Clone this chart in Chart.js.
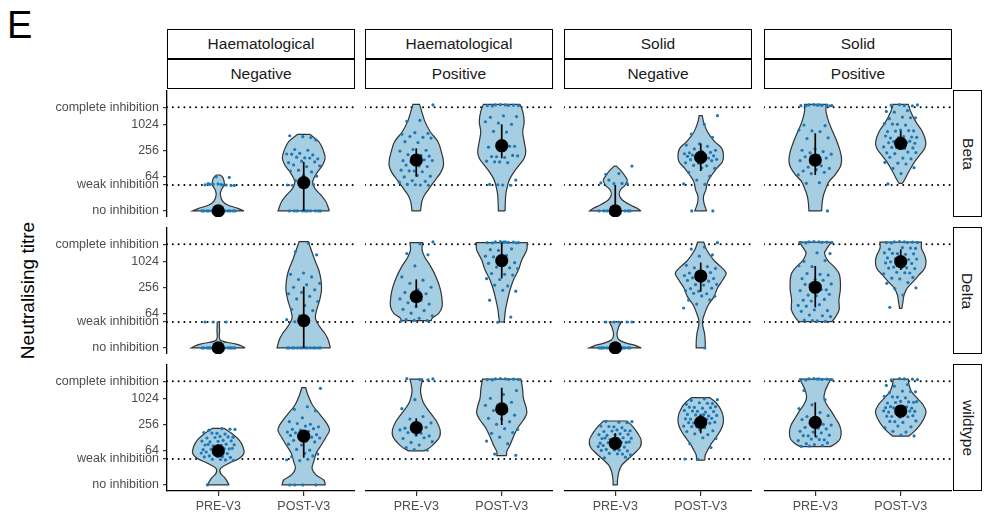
<!DOCTYPE html>
<html>
<head>
<meta charset="utf-8">
<script src="https://cdn.jsdelivr.net/npm/chart.js@4.4.1/dist/chart.umd.min.js"></script>
<style>
  html, body { margin: 0; padding: 0; background: #fff; }
  body { position: relative; width: 986px; height: 529px; overflow: hidden; font-family: "Liberation Sans", Arial, sans-serif; }
  canvas { position: absolute; }
  .strip { position: absolute; box-sizing: border-box; border: 1.3px solid #000; background: #fff;
           display: flex; align-items: center; justify-content: center; font-size: 15.5px; color: #1a1a1a; }
  .strip span { white-space: nowrap; }
  .strip .vertical { transform: rotate(90deg); }
  #panel-tag { position: absolute; left: 7px; top: 6px; font-size: 38px; line-height: 38px; color: #000; }
  #y-title { position: absolute; left: -123px; top: 281px; width: 300px; height: 19px; line-height: 19px;
             text-align: center; font-size: 19px; color: #000; transform: rotate(-90deg); white-space: nowrap; }
</style>
</head>
<body>
<div id="panel-tag">E</div>
<div id="y-title">Neutralising titre</div>
<script>
// Facets
const timepoints = ['PRE-V3', 'POST-V3'];
const cancerTypes = ['Haematological', 'Haematological', 'Solid', 'Solid'];
const antibodyStatus = ['Negative', 'Positive', 'Negative', 'Positive'];
const variants = ['Beta', 'Delta', 'wildtype'];

// y axis is log2(titre); no inhibition / weak / complete are plotted at 10, 40, 2560
const tickValues = [3.32, 5.32, 6, 8, 10, 11.32];
const tickLabels = ['no inhibition', 'weak inhibition', '64', '256', '1024', 'complete inhibition'];
const thresholdLines = [5.32, 11.32];

// summary stats, order: HaemNeg PRE, POST, HaemPos PRE, POST, SolidNeg PRE, POST, SolidPos PRE, POST
const betaMedian = [3.32, 5.5, 7.25, 8.35, 3.32, 7.45, 7.25, 8.53];
const betaQ1 = [3.32, 3.32, 5.96, 7.38, 3.32, 6.4, 6.09, 8.02];
const betaQ3 = [3.32, 7.1, 8.15, 10.0, 5.32, 8.53, 9.31, 9.49];
const deltaMedian = [3.32, 5.42, 7.28, 10.05, 3.32, 8.87, 8.0, 9.98];
const deltaQ1 = [3.32, 3.32, 6.45, 8.69, 3.32, 7.66, 6.45, 9.33];
const deltaQ3 = [3.32, 8.05, 8.61, 11.44, 3.32, 9.9, 9.64, 10.93];
const wildtypeMedian = [5.94, 7.09, 7.74, 9.18, 6.53, 8.15, 8.15, 9.02];
const wildtypeQ1 = [5.6, 5.42, 7.12, 7.94, 6.01, 7.3, 7.04, 8.66];
const wildtypeQ3 = [6.45, 7.43, 8.46, 10.82, 7.3, 8.71, 9.69, 9.49];

// violin outlines: [log2 titre, density half-width in category units], bottom to top
const betaViolins = [
  [[3.32,0.30],[3.52,0.23],[3.78,0.11],[4.08,0.05],[4.55,0.025],[4.93,0.035],[5.32,0.07],[5.70,0.065],[5.96,0.045],[6.09,0.02]],
  [[3.32,0.30],[3.52,0.29],[4.03,0.26],[4.55,0.20],[5.06,0.13],[5.52,0.105],[5.83,0.117],[6.35,0.164],[6.86,0.222],[7.38,0.25],[7.89,0.234],[8.66,0.176],[9.23,0.07]],
  [[3.32,0.05],[4.03,0.065],[4.55,0.097],[5.06,0.152],[5.70,0.222],[6.22,0.28],[6.73,0.316],[7.25,0.316],[7.89,0.293],[8.66,0.254],[9.43,0.164],[10.21,0.102],[10.98,0.064],[11.54,0.039]],
  [[3.32,0.039],[4.55,0.047],[5.32,0.07],[5.83,0.097],[6.35,0.146],[6.86,0.205],[7.38,0.263],[7.89,0.281],[8.66,0.263],[9.43,0.246],[10.21,0.263],[10.98,0.246],[11.54,0.214]],
  [[3.32,0.30],[3.52,0.257],[3.78,0.176],[4.16,0.082],[4.55,0.047],[4.93,0.059],[5.32,0.117],[5.70,0.14],[6.09,0.105],[6.48,0.059],[6.78,0.012]],
  [[3.32,0.07],[3.90,0.039],[4.42,0.032],[4.93,0.059],[5.58,0.082],[6.09,0.129],[6.61,0.187],[7.12,0.254],[7.63,0.266],[8.15,0.246],[8.66,0.164],[9.43,0.078],[10.21,0.032],[10.67,0.018]],
  [[3.32,0.074],[4.03,0.082],[4.55,0.097],[5.06,0.125],[5.58,0.16],[6.09,0.23],[6.73,0.293],[7.25,0.308],[7.89,0.293],[8.66,0.254],[9.43,0.205],[10.21,0.156],[10.98,0.126],[11.54,0.126]],
  [[5.45,0.02],[5.70,0.043],[6.09,0.074],[6.61,0.117],[7.12,0.164],[7.63,0.222],[8.15,0.281],[8.66,0.293],[9.43,0.254],[10.21,0.176],[10.98,0.117],[11.54,0.088]]
];
const deltaViolins = [
  [[3.32,0.316],[3.52,0.257],[3.68,0.164],[3.93,0.023],[4.7,0.015],[5.32,0.012]],
  [[3.32,0.312],[3.93,0.287],[4.45,0.246],[4.96,0.187],[5.60,0.137],[6.25,0.152],[7.02,0.187],[7.79,0.208],[8.56,0.202],[9.33,0.176],[10.10,0.129],[10.88,0.088],[11.52,0.053]],
  [[5.42,0.175],[5.60,0.185],[5.99,0.263],[6.50,0.302],[7.28,0.298],[8.05,0.273],[8.82,0.23],[9.59,0.17],[10.36,0.097],[10.88,0.068],[11.44,0.074]],
  [[5.32,0.027],[5.73,0.035],[6.25,0.044],[7.02,0.068],[7.79,0.097],[8.56,0.137],[9.33,0.195],[10.10,0.234],[10.88,0.293],[11.44,0.298]],
  [[3.32,0.304],[3.52,0.234],[3.67,0.14],[3.93,0.047],[4.32,0.02],[4.96,0.041],[5.32,0.07]],
  [[3.32,0.053],[3.80,0.053],[4.45,0.044],[5.09,0.023],[5.48,0.023],[5.99,0.047],[6.63,0.088],[7.28,0.156],[7.92,0.195],[8.56,0.257],[9.08,0.298],[9.59,0.234],[10.10,0.152],[10.88,0.07],[11.49,0.035]],
  [[5.35,0.195],[5.68,0.234],[6.25,0.279],[7.02,0.277],[7.79,0.293],[8.56,0.293],[9.08,0.277],[9.59,0.219],[10.10,0.143],[10.62,0.108],[11.0,0.137],[11.49,0.19]],
  [[6.37,0.014],[6.89,0.026],[7.40,0.039],[7.92,0.074],[8.43,0.146],[8.95,0.214],[9.46,0.281],[9.98,0.296],[10.49,0.279],[11.0,0.243],[11.49,0.243]]
];
const wildtypeViolins = [
  [[3.32,0.126],[3.83,0.082],[4.21,0.027],[4.60,0.027],[4.99,0.126],[5.37,0.249],[5.76,0.30],[6.27,0.289],[6.79,0.243],[7.30,0.156],[7.69,0.068]],
  [[3.32,0.254],[3.70,0.234],[4.09,0.143],[4.60,0.097],[5.11,0.117],[5.76,0.146],[6.40,0.205],[7.04,0.263],[7.56,0.302],[8.07,0.269],[8.71,0.195],[9.49,0.102],[10.26,0.049],[10.82,0.023]],
  [[5.94,0.088],[6.14,0.146],[6.53,0.214],[7.04,0.273],[7.56,0.279],[8.2,0.24],[8.71,0.185],[9.23,0.126],[9.74,0.078],[10.52,0.05],[11.03,0.058],[11.49,0.074]],
  [[5.58,0.058],[5.89,0.058],[6.40,0.097],[7.04,0.137],[7.69,0.185],[8.33,0.254],[8.84,0.293],[9.36,0.283],[10.0,0.254],[10.77,0.243],[11.49,0.224]],
  [[3.32,0.026],[3.70,0.026],[4.34,0.043],[4.86,0.078],[5.24,0.137],[5.76,0.224],[6.27,0.293],[6.79,0.302],[7.30,0.263],[7.82,0.205],[8.25,0.137]],
  [[5.24,0.049],[5.63,0.053],[6.01,0.082],[6.53,0.126],[7.04,0.185],[7.56,0.234],[8.07,0.263],[8.59,0.263],[9.1,0.237],[9.62,0.185],[10.05,0.108]],
  [[6.27,0.175],[6.53,0.243],[6.91,0.293],[7.43,0.302],[7.94,0.283],[8.46,0.237],[8.97,0.19],[9.49,0.137],[10.0,0.103],[10.52,0.113],[11.03,0.146],[11.49,0.184]],
  [[7.09,0.097],[7.43,0.156],[7.94,0.224],[8.46,0.273],[8.97,0.296],[9.49,0.263],[10.0,0.195],[10.52,0.126],[11.03,0.097],[11.49,0.088]]
];

// individual samples (log2 titre)
const betaPoints = [
  [3.32,3.32,3.32,3.32,3.32,3.32,3.32,3.32,3.32,3.32,3.32,3.32,3.32,3.32,5.3,5.36,5.28,5.4,5.33,5.31,5.38,5.29,5.35,5.42,5.9,5.95],
  [3.32,3.32,3.32,3.32,3.32,3.32,3.32,3.32,3.32,3.32,5.3,5.35,5.42,5.32,5.6,5.66,6.0,6.07,6.4,6.33,6.46,6.8,6.74,6.87,7.1,7.16,7.04,7.4,7.47,7.34,7.42,7.7,7.64,7.76,7.71,8.0,8.06,8.8,9.05,9.12,8.98],
  [11.5,10.3,10.24,9.3,9.36,9.24,9.0,9.06,8.94,8.6,8.66,8.0,8.06,7.94,7.6,7.66,7.54,7.61,7.2,7.26,7.14,7.21,6.8,6.86,6.74,6.4,6.46,6.34,6.41,6.0,6.06,5.94,5.6,5.66,5.54,5.32,5.36,5.3,5.34],
  [11.45,11.5,11.42,11.48,11.52,11.44,11.46,11.5,10.6,10.66,10.54,10.0,10.1,10.2,9.4,9.46,8.3,8.36,8.24,8.31,7.5,7.56,7.44,7.51,7.6,7.1,7.16,7.04,7.11,5.7,5.32,5.36,5.3,5.34],
  [6.78,6.2,6.14,5.45,5.42,5.48,5.44,5.7,3.32,3.32,3.32,3.32,3.32,3.32,3.32,3.32,3.32,3.32],
  [10.67,10.0,9.25,9.0,8.5,8.4,8.3,8.1,8.0,7.9,7.8,7.83,7.7,7.73,7.6,7.63,7.57,7.5,7.53,7.4,7.43,7.3,7.33,7.27,7.2,7.0,7.03,6.8,6.83,6.6,6.63,6.3,6.0,5.7,5.4,5.37,3.32,3.32],
  [11.45,11.5,11.42,11.48,11.52,11.44,11.46,11.5,11.43,11.49,9.95,9.9,9.5,9.56,9.44,8.9,8.96,8.1,8.0,7.9,7.8,7.7,7.6,7.5,7.4,7.3,7.2,6.8,6.7,6.6,6.5,6.4,6.3,6.2,6.1,5.5,5.45,3.32],
  [11.5,11.45,11.48,11.42,11.52,11.0,11.06,10.94,10.5,10.56,10.44,10.51,10.0,10.06,9.94,10.02,9.5,9.56,9.44,9.52,9.48,9.0,9.06,8.94,9.02,8.98,9.1,8.6,8.66,8.54,8.62,8.58,8.7,8.2,8.26,8.14,8.22,8.18,8.3,7.8,7.86,7.74,7.82,7.4,7.46,7.34,7.0,7.06,6.94,6.6,6.66,6.2,5.4]
];
const deltaPoints = [
  [3.32,3.32,3.32,3.32,3.32,3.32,3.32,3.32,3.32,3.32,3.32,3.32,3.32,3.32,3.32,3.32,3.32,3.32,5.32,5.32,5.32],
  [3.32,3.32,3.32,3.32,3.32,3.32,3.32,3.32,3.32,3.32,3.32,3.32,3.32,3.32,11.4,10.75,10.5,9.1,9.0,8.8,8.6,8.3,8.2,8.0,7.8,7.6,7.5,7.3,7.1,6.9,6.6,6.3,6.2,5.8,5.5,5.3,5.34],
  [11.5,11.35,10.6,10.5,9.65,8.8,8.55,8.3,8.0,7.8,7.6,7.5,7.3,7.1,7.0,6.8,6.7,6.5,6.3,6.2,6.0,5.8,5.6,5.5,5.42,5.44,5.4],
  [11.45,11.5,11.42,11.48,11.52,11.44,11.46,11.5,11.43,11.49,10.9,10.96,10.84,10.4,10.46,10.34,9.9,9.96,9.84,9.5,9.56,9.44,9.0,9.06,8.94,8.6,8.66,8.1,8.16,7.7,7.76,7.0,5.7,5.3],
  [5.32,5.32,5.32,5.32,5.32,3.32,3.32,3.32,3.32,3.32,3.32,3.32,3.32,3.32,3.32,3.32,3.32,3.32,3.32,3.32,3.32],
  [11.44,11.1,10.95,10.5,10.4,9.7,9.6,9.5,9.45,9.2,9.1,9.13,9.07,8.9,8.7,8.73,8.67,8.5,8.53,8.47,8.2,8.23,8.17,7.9,7.93,7.7,7.73,7.5,7.53,7.3,7.33,7.0,7.03,6.7,6.4,3.32],
  [11.45,11.5,11.42,11.48,11.52,11.44,11.46,11.5,10.6,10.66,10.0,10.06,9.6,9.66,9.0,9.06,8.94,8.6,8.66,8.54,8.2,8.26,8.14,8.22,7.8,7.86,7.74,7.82,7.4,7.46,7.34,7.0,7.06,6.94,6.6,6.66,6.54,6.2,6.26,6.14,5.8,5.86,5.74,5.4,5.46,5.36,5.42],
  [11.45,11.5,11.42,11.48,11.52,11.44,11.46,11.5,11.0,11.06,10.94,11.02,10.6,10.66,10.54,10.62,10.58,10.2,10.26,10.14,10.22,10.18,9.9,9.96,9.84,9.92,9.88,9.5,9.56,9.44,9.52,9.48,9.1,9.16,9.04,9.12,8.7,8.76,8.64,8.3,8.36,7.9,7.96,7.4,6.45]
];
const wildtypePoints = [
  [7.6,7.66,7.54,7.62,7.3,7.36,7.24,7.32,7.0,7.06,6.94,7.02,6.98,6.7,6.76,6.64,6.72,6.68,6.4,6.46,6.34,6.42,6.38,6.44,6.1,6.16,6.04,6.12,6.08,6.14,5.8,5.86,5.74,5.82,5.78,5.5,5.56,5.44,5.52,5.48,5.25,5.3,5.22,5.28,3.32],
  [10.77,9.35,9.15,9.05,8.5,8.2,8.0,8.06,7.8,7.86,7.6,7.66,7.54,7.4,7.46,7.34,7.2,7.26,7.14,7.0,7.06,6.94,6.7,6.76,6.64,6.4,6.46,6.0,6.06,5.7,5.76,5.5,5.56,5.2,5.26,5.3,3.32,3.32,3.32,3.32],
  [11.5,11.45,11.52,11.42,9.9,9.2,8.6,8.4,8.1,7.9,7.7,7.76,7.5,7.56,7.3,7.36,7.1,7.16,6.9,6.96,6.6,6.66,6.4,6.2,6.0,6.04],
  [11.45,11.5,11.42,11.48,11.52,11.44,11.46,11.5,10.6,10.3,10.0,9.7,9.4,9.46,9.0,9.06,8.7,8.4,8.46,8.2,8.0,7.6,7.66,7.3,7.36,7.0,6.7,6.5,5.7,5.6],
  [8.2,8.16,8.22,8.12,7.8,7.86,7.74,7.82,7.5,7.56,7.44,7.52,7.48,7.2,7.26,7.14,7.22,7.18,6.9,6.96,6.84,6.92,6.88,6.94,6.6,6.66,6.54,6.62,6.58,6.64,6.3,6.36,6.24,6.32,6.28,6.0,6.06,5.94,6.02,5.98,5.7,5.76,5.64,5.72,5.4,5.46],
  [9.9,9.96,9.84,9.6,9.66,9.54,9.62,9.3,9.36,9.24,9.32,9.28,9.0,9.06,8.94,9.02,8.98,8.7,8.76,8.64,8.72,8.68,8.74,8.4,8.46,8.34,8.42,8.38,8.1,8.16,8.04,8.12,8.08,7.8,7.86,7.74,7.82,7.5,7.56,7.44,7.2,7.26,6.9,6.96,6.5,6.2,5.3,5.32],
  [11.45,11.5,11.42,11.48,11.52,11.44,11.46,11.5,11.43,11.49,10.6,9.9,9.5,9.2,8.9,8.6,8.66,8.3,8.36,8.0,8.06,7.94,7.7,7.76,7.64,7.4,7.46,7.34,7.1,7.16,7.04,7.12,6.8,6.86,6.74,6.82,6.5,6.56,6.44,6.3,6.36,6.32],
  [11.45,11.5,11.42,11.48,11.52,11.0,11.06,10.94,10.5,10.56,10.44,10.52,10.1,10.16,10.04,10.12,9.7,9.76,9.64,9.72,9.68,9.74,9.3,9.36,9.24,9.32,9.28,9.34,9.26,9.0,9.06,8.94,9.02,8.98,9.04,8.96,8.6,8.66,8.54,8.62,8.58,8.2,8.26,8.14,8.22,7.8,7.86,7.74,7.4,7.46,7.1,7.16]
];

const rows = [
  { violins: betaViolins, points: betaPoints, median: betaMedian, q1: betaQ1, q3: betaQ3 },
  { violins: deltaViolins, points: deltaPoints, median: deltaMedian, q1: deltaQ1, q3: deltaQ3 },
  { violins: wildtypeViolins, points: wildtypePoints, median: wildtypeMedian, q1: wildtypeQ1, q3: wildtypeQ3 }
];

// layout
const panelLeft = [167, 365, 564, 764];
const panelTop = [90, 227, 364];
const panelW = 188;
const panelH = 127;
const xAxisH = 38;
const xMin = 0.4, xMax = 2.6;
const yMin = 2.85, yMax = 12.65;

const violinFill = 'rgb(166,206,227)';
const violinLine = '#333333';
const pointColor = '#1f78b4';
const tickColor = '#4d4d4d';
const jitterWidth = 0.2;

Chart.defaults.font.family = '"Liberation Sans", Arial, sans-serif';

function addStrip(text, left, top, width, height, vertical) {
  const box = document.createElement('div');
  box.className = 'strip';
  box.style.left = left + 'px';
  box.style.top = top + 'px';
  box.style.width = width + 'px';
  box.style.height = height + 'px';
  const span = document.createElement('span');
  span.textContent = text;
  if (vertical) span.className = 'vertical';
  box.appendChild(span);
  document.body.appendChild(box);
}

// closed outline; corner points doubled so flat ends stay straight
function violinOutline(shape, center) {
  const right = shape.map(([y, w]) => ({ x: center + w, y: y }));
  const left = shape.slice().reverse().map(([y, w]) => ({ x: center - w, y: y }));
  const last = right.length - 1;
  return [right[0]].concat(right, [right[last]], [left[0]], left, [left[last]], [right[0]]);
}

function jitter(values, center) {
  return values.map((y, i) => {
    const u = ((i + 1) * 0.6180339887 + 0.37) % 1;
    return { x: center + jitterWidth * (2 * u - 1), y: y };
  });
}

function buildDatasets(row, col) {
  const sets = [];
  for (let t = 0; t < 2; t++) {
    const k = col * 2 + t;
    const center = t + 1;
    sets.push({
      data: [{ x: center, y: row.median[k] }],
      pointRadius: 6.6, pointBackgroundColor: '#000', pointBorderWidth: 0, order: 0
    });
    sets.push({
      data: [{ x: center, y: row.q1[k] }, { x: center, y: row.q3[k] }],
      showLine: true, borderColor: '#000', borderWidth: 1.7, pointRadius: 0, order: 1
    });
    sets.push({
      data: jitter(row.points[k], center),
      pointRadius: 1.6, pointBackgroundColor: pointColor, pointBorderWidth: 0, order: 2
    });
    sets.push({
      data: violinOutline(row.violins[k], center),
      showLine: true, fill: 'shape', tension: 0.35,
      backgroundColor: violinFill, borderColor: violinLine, borderWidth: 1.2,
      pointRadius: 0, order: 3
    });
  }
  thresholdLines.forEach(v => {
    sets.push({
      data: [{ x: xMin, y: v }, { x: xMax, y: v }],
      showLine: true, borderColor: '#000', borderWidth: 1.9,
      borderDash: [0.1, 5.7], borderCapStyle: 'round', pointRadius: 0, order: 4
    });
  });
  return sets;
}

function makePanel(r, c) {
  const showX = r === 2;
  const showY = c === 0;
  const left = showY ? 0 : panelLeft[c];
  const width = panelLeft[c] + panelW - left;
  const height = panelH + (showX ? xAxisH : 0);
  const canvas = document.createElement('canvas');
  canvas.width = width;
  canvas.height = height;
  canvas.style.left = left + 'px';
  canvas.style.top = panelTop[r] + 'px';
  document.body.appendChild(canvas);

  new Chart(canvas, {
    type: 'scatter',
    data: { datasets: buildDatasets(rows[r], c) },
    options: {
      responsive: false,
      animation: false,
      events: [],
      layout: { padding: 0, autoPadding: false },
      plugins: { legend: { display: false }, tooltip: { enabled: false } },
      scales: {
        x: {
          type: 'linear', min: xMin, max: xMax,
          display: showX,
          afterBuildTicks: s => { s.ticks = [{ value: 1 }, { value: 2 }]; },
          ticks: { autoSkip: false, maxRotation: 0, padding: 3, color: tickColor, font: { size: 12.5 },
                   callback: (v, i) => timepoints[i] },
          grid: { drawOnChartArea: false, tickLength: 5, color: '#333', lineWidth: 1.2 },
          border: { display: true, color: '#000', width: 1.3 },
          afterFit: s => {
            if (!showX) return;
            s.height = xAxisH; s.paddingLeft = 0; s.paddingRight = 0;
          }
        },
        y: {
          type: 'linear', min: yMin, max: yMax,
          display: showY,
          afterBuildTicks: s => { s.ticks = tickValues.map(v => ({ value: v })); },
          ticks: { autoSkip: false, padding: 4, color: tickColor, font: { size: 12.5 },
                   callback: (v, i) => tickLabels[i] },
          grid: { drawOnChartArea: false, tickLength: 4, color: '#333', lineWidth: 1.2 },
          border: { display: true, color: '#000', width: 1.3 },
          afterFit: s => {
            if (!showY) return;
            s.width = panelLeft[0]; s.paddingTop = 0; s.paddingBottom = 0;
          }
        }
      }
    }
  });
}

// strips
for (let c = 0; c < 4; c++) {
  addStrip(cancerTypes[c], panelLeft[c], 29, panelW, 30, false);
  addStrip(antibodyStatus[c], panelLeft[c], 59, panelW, 30, false);
}
for (let r = 0; r < 3; r++) {
  addStrip(variants[r], 953, panelTop[r], 29, panelH, true);
}

for (let r = 0; r < 3; r++) {
  for (let c = 0; c < 4; c++) {
    makePanel(r, c);
  }
}
</script>
</body>
</html>
